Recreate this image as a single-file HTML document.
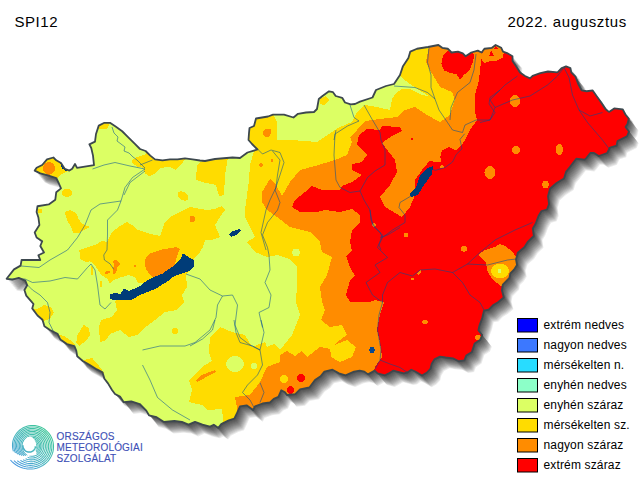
<!DOCTYPE html>
<html><head><meta charset="utf-8"><title>SPI12</title>
<style>
html,body{margin:0;padding:0;background:#fff;}
body{width:640px;height:480px;overflow:hidden;position:relative;font-family:"Liberation Sans",sans-serif;}
svg{position:absolute;left:0;top:0;}
text{font-family:"Liberation Sans",sans-serif;}
</style></head><body>
<svg width="640" height="480" viewBox="0 0 640 480">
<defs>
<polygon id="cp" points="6.6,278.75 14,269.4 20.6,265.6 21.6,260 40.3,260 38.4,255.3 44,252.5 40.3,246 42.2,241.25 36.6,237.5 34.7,232.5 39.4,225 38.4,217.5 36.6,212 37.5,206.25 48.75,204.4 55.3,199.7 56.25,192.2 61,188.4 59,183.75 56.25,178 47.8,175.3 40.3,173.4 34.7,170.6 36.6,167.8 42.2,165 47,159.4 53.4,157.5 56.25,160.3 61,163 64.7,168.75 69.4,170.6 72.2,168.75 75,164 77,167.8 94,165.2 93,155.6 91.25,148 89.4,144.4 95,141.6 96,134 98.75,125.6 104.4,122.8 110,122.8 115.6,126.6 122.2,131.25 127.8,136.9 134.4,143.4 140,149 145.6,151 150.3,155.6 155,159.4 162.5,160.3 170,159.4 177.5,159.4 185,158.4 192.5,159.4 200,160.5 205,161 215,159 232.5,157.5 240,158 247.5,152.5 257.5,149.5 252,144 248.5,140 249,133 249.5,128 254,126 256,118.5 262,117.5 268,116.5 273,114.7 284,114.7 293.5,117.5 298,113.8 306,112.5 314,112 317,109 318.8,99 322.5,96 329,91.3 333,92.2 335.7,96 342.2,97.8 345,102.5 350.7,104.4 355,104 360,101.6 372.5,97.5 376,90 386,86 394,84 400,75 402.8,66.6 408.4,58 410.3,51.6 417,48.75 428,47 438.4,45 442.2,47.8 447.8,48.75 451.6,52.5 458,51.6 462.8,53.4 465.6,56.25 471.25,52.5 477.8,50.6 481.6,52.5 484.4,48.75 492,47.8 495.6,45 501.25,47.8 503,51.6 507.8,53.4 512.5,56.25 512.5,61 516.25,66.6 520,72.5 525,76 530,78.4 532.6,75.8 540.3,73.2 548,71.5 557.5,72.3 561.8,68 566,66.3 570.4,68 571.25,72.3 575.5,76.6 578,83.5 581.6,90.4 586.7,91.25 592.7,90.4 596.2,95.5 600.5,101.6 605.6,109.3 609,111.9 614.2,108.4 622.8,109.3 625.4,114.5 628.8,118.75 627.5,124 625.5,127 629,131.5 627,136.25 617.5,141 616.6,145.6 610,147.5 607.2,153 598.75,156 594,153 590.3,153 586.6,157.8 584.7,159.7 576.25,158.75 569.7,167.2 566,171.9 564,178.4 556.6,183 550,188.75 548,196.25 549,204 547,209.5 541.5,211 538.5,216 535.6,223.75 532.8,228.4 533.75,236 528,241.6 524.4,247.2 517.8,252.8 516,259.4 517,265 514,269.7 510.3,273.4 509.4,278 502.8,284.7 501.9,290.3 503.75,297.5 498,302.2 493.4,305 488.75,309.7 484,310.6 482.2,318 479.4,325.6 478.4,330.3 482.2,335 480.3,339.7 474.7,343.4 471.9,351.9 466.25,355.6 464.4,360.3 458.75,361.25 453,358.4 445.6,357.5 440,356.6 434.4,359.4 431.6,364 430.6,368.5 427,372.5 422,375.5 415.3,371.5 411.25,369.7 407.5,372.5 403.75,373.4 393.4,370.6 388.75,373.4 385,375.3 377.5,373.4 374.7,370.6 368,374.4 364.4,371.6 359.7,370.6 354,371.6 345.6,375.3 339,373.4 332.5,369.7 324.4,371.6 320.6,376.3 315,380 309.4,387.5 300,389.4 295.3,394.1 286.9,395 285,392.2 281.25,390.3 278.4,396.9 273.75,398.8 270,402.5 262.5,403.5 255,406.3 253.1,410 246.6,405.3 240,406.3 237,413 234.4,418.5 228.75,420.4 221.25,424.1 218.4,427.9 213.8,424.7 210,426.6 202.5,424.7 195,421.9 188.5,424.7 181.9,421.9 174.4,421 164,421.9 156.6,417.2 149,415.3 146.3,410.6 139.7,404 131.25,401.3 123.75,402.2 120,396.6 115,394 112,390 108,383.4 104.4,378.75 102.5,372.2 96.9,369.4 89.4,364.7 82.8,361 77.2,356.25 76.25,350.6 74.4,346 66.9,344 60.3,339.4 57.5,333.75 50,330 44.4,326.25 42.5,319.7 37.5,315.5 32.2,308.4 33.5,304 31.9,302.2 26.25,295.6 24.4,290 27.2,285.3 25.3,280.6 18.75,277.8 12.2,279.7"/>
<clipPath id="hu"><use href="#cp"/></clipPath>
<linearGradient id="lg" gradientUnits="userSpaceOnUse" x1="50" y1="428" x2="14" y2="466"><stop offset="0" stop-color="#2cc48a"/><stop offset="0.55" stop-color="#38b0b8"/><stop offset="1" stop-color="#3a8ee0"/></linearGradient>
<filter id="sh" x="-5%" y="-5%" width="115%" height="115%"><feGaussianBlur stdDeviation="0.5"/></filter>
</defs>
<rect width="640" height="480" fill="#fff"/>
<g filter="url(#sh)"><use href="#cp" transform="translate(0.66,0.8)" fill="#000" fill-opacity="0.082"/><use href="#cp" transform="translate(1.35,1.64)" fill="#000" fill-opacity="0.082"/><use href="#cp" transform="translate(2.05,2.48)" fill="#000" fill-opacity="0.082"/><use href="#cp" transform="translate(2.74,3.32)" fill="#000" fill-opacity="0.082"/><use href="#cp" transform="translate(3.43,4.16)" fill="#000" fill-opacity="0.082"/><use href="#cp" transform="translate(4.12,5.0)" fill="#000" fill-opacity="0.082"/><use href="#cp" transform="translate(4.82,5.84)" fill="#000" fill-opacity="0.082"/><use href="#cp" transform="translate(5.51,6.68)" fill="#000" fill-opacity="0.082"/><use href="#cp" transform="translate(6.2,7.52)" fill="#000" fill-opacity="0.082"/><use href="#cp" transform="translate(6.9,8.36)" fill="#000" fill-opacity="0.082"/><use href="#cp" transform="translate(7.59,9.2)" fill="#000" fill-opacity="0.082"/><use href="#cp" transform="translate(8.28,10.04)" fill="#000" fill-opacity="0.082"/><use href="#cp" transform="translate(8.98,10.88)" fill="#000" fill-opacity="0.082"/><use href="#cp" transform="translate(9.67,11.72)" fill="#000" fill-opacity="0.082"/></g>
<g clip-path="url(#hu)" shape-rendering="crispEdges">
<polygon points="6.6,278.75 14,269.4 20.6,265.6 21.6,260 40.3,260 38.4,255.3 44,252.5 40.3,246 42.2,241.25 36.6,237.5 34.7,232.5 39.4,225 38.4,217.5 36.6,212 37.5,206.25 48.75,204.4 55.3,199.7 56.25,192.2 61,188.4 59,183.75 56.25,178 47.8,175.3 40.3,173.4 34.7,170.6 36.6,167.8 42.2,165 47,159.4 53.4,157.5 56.25,160.3 61,163 64.7,168.75 69.4,170.6 72.2,168.75 75,164 77,167.8 94,165.2 93,155.6 91.25,148 89.4,144.4 95,141.6 96,134 98.75,125.6 104.4,122.8 110,122.8 115.6,126.6 122.2,131.25 127.8,136.9 134.4,143.4 140,149 145.6,151 150.3,155.6 155,159.4 162.5,160.3 170,159.4 177.5,159.4 185,158.4 192.5,159.4 200,160.5 205,161 215,159 232.5,157.5 240,158 247.5,152.5 257.5,149.5 252,144 248.5,140 249,133 249.5,128 254,126 256,118.5 262,117.5 268,116.5 273,114.7 284,114.7 293.5,117.5 298,113.8 306,112.5 314,112 317,109 318.8,99 322.5,96 329,91.3 333,92.2 335.7,96 342.2,97.8 345,102.5 350.7,104.4 355,104 360,101.6 372.5,97.5 376,90 386,86 394,84 400,75 402.8,66.6 408.4,58 410.3,51.6 417,48.75 428,47 438.4,45 442.2,47.8 447.8,48.75 451.6,52.5 458,51.6 462.8,53.4 465.6,56.25 471.25,52.5 477.8,50.6 481.6,52.5 484.4,48.75 492,47.8 495.6,45 501.25,47.8 503,51.6 507.8,53.4 512.5,56.25 512.5,61 516.25,66.6 520,72.5 525,76 530,78.4 532.6,75.8 540.3,73.2 548,71.5 557.5,72.3 561.8,68 566,66.3 570.4,68 571.25,72.3 575.5,76.6 578,83.5 581.6,90.4 586.7,91.25 592.7,90.4 596.2,95.5 600.5,101.6 605.6,109.3 609,111.9 614.2,108.4 622.8,109.3 625.4,114.5 628.8,118.75 627.5,124 625.5,127 629,131.5 627,136.25 617.5,141 616.6,145.6 610,147.5 607.2,153 598.75,156 594,153 590.3,153 586.6,157.8 584.7,159.7 576.25,158.75 569.7,167.2 566,171.9 564,178.4 556.6,183 550,188.75 548,196.25 549,204 547,209.5 541.5,211 538.5,216 535.6,223.75 532.8,228.4 533.75,236 528,241.6 524.4,247.2 517.8,252.8 516,259.4 517,265 514,269.7 510.3,273.4 509.4,278 502.8,284.7 501.9,290.3 503.75,297.5 498,302.2 493.4,305 488.75,309.7 484,310.6 482.2,318 479.4,325.6 478.4,330.3 482.2,335 480.3,339.7 474.7,343.4 471.9,351.9 466.25,355.6 464.4,360.3 458.75,361.25 453,358.4 445.6,357.5 440,356.6 434.4,359.4 431.6,364 430.6,368.5 427,372.5 422,375.5 415.3,371.5 411.25,369.7 407.5,372.5 403.75,373.4 393.4,370.6 388.75,373.4 385,375.3 377.5,373.4 374.7,370.6 368,374.4 364.4,371.6 359.7,370.6 354,371.6 345.6,375.3 339,373.4 332.5,369.7 324.4,371.6 320.6,376.3 315,380 309.4,387.5 300,389.4 295.3,394.1 286.9,395 285,392.2 281.25,390.3 278.4,396.9 273.75,398.8 270,402.5 262.5,403.5 255,406.3 253.1,410 246.6,405.3 240,406.3 237,413 234.4,418.5 228.75,420.4 221.25,424.1 218.4,427.9 213.8,424.7 210,426.6 202.5,424.7 195,421.9 188.5,424.7 181.9,421.9 174.4,421 164,421.9 156.6,417.2 149,415.3 146.3,410.6 139.7,404 131.25,401.3 123.75,402.2 120,396.6 115,394 112,390 108,383.4 104.4,378.75 102.5,372.2 96.9,369.4 89.4,364.7 82.8,361 77.2,356.25 76.25,350.6 74.4,346 66.9,344 60.3,339.4 57.5,333.75 50,330 44.4,326.25 42.5,319.7 37.5,315.5 32.2,308.4 33.5,304 31.9,302.2 26.25,295.6 24.4,290 27.2,285.3 25.3,280.6 18.75,277.8 12.2,279.7" fill="#dcff64" />
<polygon points="412,30 402,68 400,76 406,81 413,86 422,92 430,96.5 422,95 411,89.5 403,88.5 396,93 392,99 390,110 377,107 365,105 357,112 352,122 340,127 335,130 317,142 292,140 277,140 277,122 272,112 240,112 240,150 254,151 250,165 249,180 247,195 245,210 245,217 255,237 247,242 255,252 267,257 277,255 290,259 297,267 297,285 296,302 300,315 292,335 280,350 274,344 267,347 265,342 252,347 245,335 232,332 220,327 210,337 209,352 212,361 202,367 189,380 192,390 189,402 202,405 207,410 222,409 222,440 660,440 660,30" fill="#ffdc00" />
<polygon points="112,232 120,226 127,222 132,225 138,230 150,234 160,236 163,228 165,222 170,217 180,212 190,207 207,210 215,209 222,206 225,210 220,217 215,225 218,232 220,237 212,240 205,240 203,247 200,252 195,257 194,260 192,267 186,275 187,287 182,295 184,302 177,310 165,312 155,320 147,326 137,335 129,337 120,330 110,334 106,340 100,342 99,327 101,320 112,317 117,310 115,301 125,297 139,290 145,283 138,282.5 135,277.5 128.75,275 120,277.5 113.75,280 110,283.75 107.5,278.75 101.25,275 98.75,271.25 95,265 90,261.25 86.25,262.5 80,258.75 79.4,250 95,245 102,241 107,242" fill="#ffdc00" />
<polygon points="131.6,160.3 136.25,157.5 144.7,154.7 148,150 160,152 186,154 185,159.4 182.2,163 175.6,169.7 170,167 160.6,167.8 155,173.4 149.4,176.25 144.7,173.4 143.75,167.8 137.2,166.9 132.5,163" fill="#ffdc00" />
<polygon points="197,165 205,159 228,157 225,175 224,195 219,196 216,185 202,182 196,180" fill="#ffdc00" />
<polygon points="64.7,212 70.3,210 76,212.8 78.75,219.4 82.5,224 90,227 82.5,230.6 78.75,233.4 73,232.5 71.25,227 67.5,221.25 65.6,215.6" fill="#ffdc00" />
<polygon points="77.2,335.6 83.75,324.4 88.4,328 90.3,334.7 85.6,341.25 79,346 76.25,343" fill="#ffdc00" />
<polygon points="84,360 92.2,358 98.75,365.6 104,373 96,372 88,366" fill="#ffdc00" />
<polygon points="90.5,266 93,267 93.5,275 91.5,275" fill="#ffdc00" />
<polygon points="100,281 102,281 102.5,287 100.5,287" fill="#ffdc00" />
<polygon points="30,309 37,309.4 44.4,304.7 51,307.5 53.75,313 50,318.75 44.4,320.6 38,322" fill="#ffdc00" />
<polygon points="30,160 50,150 62,160 69,169 66,172 60,175 56,179 30,182" fill="#ffdc00" />
<polygon points="72.0,192.8 71.5,194.6 70.1,196.0 68.1,196.8 65.9,196.8 63.9,196.0 62.5,194.6 62.0,192.8 62.5,190.9 63.9,189.5 65.9,188.7 68.1,188.7 70.1,189.5 71.5,190.9" fill="#ffdc00" />
<polygon points="42.5,211.0 42.3,212.1 41.6,213.0 40.6,213.4 39.4,213.4 38.4,213.0 37.7,212.1 37.5,211.0 37.7,209.9 38.4,209.0 39.4,208.6 40.6,208.6 41.6,209.0 42.3,209.9" fill="#ffdc00" />
<polygon points="59,335 64,336 70,340 75,345 66,346" fill="#ffdc00" />
<polygon points="97,128 100,120 112,120 109,124.7 108,128.4 102.5,129.4" fill="#ffdc00" />
<polygon points="187.9,199.4 186.4,200.5 184.3,200.7 181.9,200.0 179.7,198.4 178.1,196.4 177.6,194.3 178.1,192.6 179.6,191.5 181.7,191.3 184.1,192.0 186.3,193.6 187.9,195.6 188.4,197.7" fill="#ffdc00" />
<polygon points="178.5,331.0 178.2,332.5 177.2,333.7 175.8,334.4 174.2,334.4 172.8,333.7 171.8,332.5 171.5,331.0 171.8,329.5 172.8,328.3 174.2,327.6 175.8,327.6 177.2,328.3 178.2,329.5" fill="#ffdc00" />
<polygon points="320,99 326,96 329,100 324,105 320,104" fill="#ffdc00" />
<polygon points="300.0,252.5 299.6,254.2 298.5,255.6 296.9,256.4 295.1,256.4 293.5,255.6 292.4,254.2 292.0,252.5 292.4,250.8 293.5,249.4 295.1,248.6 296.9,248.6 298.5,249.4 299.6,250.8" fill="#dcff64" />
<polygon points="244.0,364.0 243.1,367.5 240.6,370.3 237.0,371.8 233.0,371.8 229.4,370.3 226.9,367.5 226.0,364.0 226.9,360.5 229.4,357.7 233.0,356.2 237.0,356.2 240.6,357.7 243.1,360.5" fill="#dcff64" />
<polygon points="257.5,366.0 257.2,367.5 256.2,368.7 254.8,369.4 253.2,369.4 251.8,368.7 250.8,367.5 250.5,366.0 250.8,364.5 251.8,363.3 253.2,362.6 254.8,362.6 256.2,363.3 257.2,364.5" fill="#dcff64" />
<polygon points="223.5,418.0 222.8,421.5 220.7,424.3 217.7,425.8 214.3,425.8 211.3,424.3 209.2,421.5 208.5,418.0 209.2,414.5 211.3,411.7 214.3,410.2 217.7,410.2 220.7,411.7 222.8,414.5" fill="#dcff64" />
<polygon points="429,30 429,47 426,62 430,70 440,87 452,92 455,100 450,115 440,122 427,115 415,107 405,110 397,117 380,119 365,121 357,130 350,137 352,142 347,155 335,160 315,166 300,170 290,182 282,196 276,185 270,179 262,192 262,202 267,210 277,217 290,227 310,232 320,242 322,252 332,257 327,275 320,287 322,302 325,310 321,320 330,327 342,325 347,335 337,342 330,349 320,347 307,357 302,351 295,356 287,351 280,355 280,362 267,367 260,382 250,395 235,397 237,407 237,440 660,440 660,30" fill="#ff8c00" />
<polygon points="145.3,258.75 150,253.3 162.5,249.4 176.6,247 179.7,249.4 176.6,257.2 175,265 168.75,269 162.5,273.6 153,277.5 150,275 146,269 144.5,263.4" fill="#ff8c00" />
<polygon points="55.0,168.3 54.4,171.1 52.7,173.4 50.3,174.6 47.7,174.6 45.3,173.4 43.6,171.1 43.0,168.3 43.6,165.5 45.3,163.2 47.7,162.0 50.3,162.0 52.7,163.2 54.4,165.5" fill="#ff8c00" />
<polygon points="195.1,219.0 194.8,220.5 194.0,221.7 192.9,222.4 191.7,222.4 190.6,221.7 189.8,220.5 189.5,219.0 189.8,217.5 190.6,216.3 191.7,215.6 192.9,215.6 194.0,216.3 194.8,217.5" fill="#ff8c00" />
<polygon points="330,347 347,340 356,347 352,357 340,362 331,357" fill="#ffdc00" />
<polygon points="288.0,379.0 287.6,380.7 286.5,382.1 284.9,382.9 283.1,382.9 281.5,382.1 280.4,380.7 280.0,379.0 280.4,377.3 281.5,375.9 283.1,375.1 284.9,375.1 286.5,375.9 287.6,377.3" fill="#ffdc00" />
<polygon points="196,380 200,376 207,373 215,370 216,372 208,376 201,380 197,382" fill="#ff8c00" />
<polygon points="113,261 116,259.5 121,264 117.5,267 116,273 113.5,274 113,269 114,265" fill="#ff8c00" />
<polygon points="104.5,272 109,270.5 110,272.5 106,274.5" fill="#ff8c00" />
<polygon points="136.2,265.6 136.1,266.1 135.7,266.5 135.3,266.8 134.7,266.8 134.3,266.5 133.9,266.1 133.8,265.6 133.9,265.1 134.3,264.7 134.7,264.4 135.3,264.4 135.7,264.7 136.1,265.1" fill="#ff8c00" />
<polygon points="263,131 266,129 271,129.5 271,133 269,136.5 265,137 262.5,134" fill="#ff8c00" />
<polygon points="263.0,165.0 262.8,165.9 262.2,166.6 261.4,166.9 260.6,166.9 259.8,166.6 259.2,165.9 259.0,165.0 259.2,164.1 259.8,163.4 260.6,163.1 261.4,163.1 262.2,163.4 262.8,164.1" fill="#ff8c00" />
<polygon points="273.5,160.5 273.4,161.2 272.9,161.7 272.3,162.0 271.7,162.0 271.1,161.7 270.6,161.2 270.5,160.5 270.6,159.8 271.1,159.3 271.7,159.0 272.3,159.0 272.9,159.3 273.4,159.8" fill="#ff8c00" />
<polygon points="482,30 482,52 481,62 479,80 475,95 475,112 477,120 470,130 465,140 462,145 456,150.6 448.75,147 442,150.6 440.3,156.25 441.25,162 435.6,162.5 430,160.5 422,170 415,180 415,195 410,207 402,217 385,207 380,197 390,185 397,172 395,160 382,143 386,140 392,136 402,131 400,127 382,126 380,130 367,129 359,135 357,145 367,155 362,162 352,164 352,170 362,175 352,182 342,186 340,190 322,190 312,186 305,192 295,200 292,207 300,212 317,212 325,210 340,212 352,209 360,215 360,222 352,230 350,242 352,251 346,256 350,267 355,276 350,280 346,295 350,302 370,302 375,300 384,302 380,315 377,330 380,342 382,357 375,367 374,371 374,440 660,440 660,30" fill="#ff0000" />
<polygon points="443,56 447,51 451.6,52 458,51 462.8,53 465.6,56 471,52.5 474.5,54 473,62 469.4,70.3 463.75,75 460,79.7 456.25,74 450.6,73 444,70.3 441.25,63.75" fill="#ff0000" />
<polygon points="305.0,378.0 304.6,379.7 303.5,381.1 301.9,381.9 300.1,381.9 298.5,381.1 297.4,379.7 297.0,378.0 297.4,376.3 298.5,374.9 300.1,374.1 301.9,374.1 303.5,374.9 304.6,376.3" fill="#ff0000" />
<polygon points="294.5,390.0 294.1,391.7 293.0,393.1 291.4,393.9 289.6,393.9 288.0,393.1 286.9,391.7 286.5,390.0 286.9,388.3 288.0,386.9 289.6,386.1 291.4,386.1 293.0,386.9 294.1,388.3" fill="#ff0000" />
<polygon points="413.5,139.0 413.4,139.7 412.9,140.2 412.3,140.5 411.7,140.5 411.1,140.2 410.6,139.7 410.5,139.0 410.6,138.3 411.1,137.8 411.7,137.5 412.3,137.5 412.9,137.8 413.4,138.3" fill="#ff0000" />
<polygon points="479,254 485,250 495,247 500,244 505,246 512,251 516,257 517,266 511,274 507,282 501,286 492,279 487,270 486,262 480,257" fill="#ff8c00" />
<polygon points="509.0,271.0 508.1,274.3 505.6,276.9 502.0,278.3 498.0,278.3 494.4,276.9 491.9,274.3 491.0,271.0 491.9,267.7 494.4,265.1 498.0,263.7 502.0,263.7 505.6,265.1 508.1,267.7" fill="#ffdc00" />
<polygon points="501.5,271.0 501.3,271.9 500.7,272.6 499.9,272.9 499.1,272.9 498.3,272.6 497.7,271.9 497.5,271.0 497.7,270.1 498.3,269.4 499.1,269.1 499.9,269.1 500.7,269.4 501.3,270.1" fill="#dcff64" />
<polygon points="520.0,150.0 519.6,151.7 518.5,153.1 516.9,153.9 515.1,153.9 513.5,153.1 512.4,151.7 512.0,150.0 512.4,148.3 513.5,146.9 515.1,146.1 516.9,146.1 518.5,146.9 519.6,148.3" fill="#ff8c00" />
<polygon points="563.0,149.5 562.7,152.1 561.7,154.2 560.3,155.3 558.7,155.3 557.3,154.2 556.3,152.1 556.0,149.5 556.3,146.9 557.3,144.8 558.7,143.7 560.3,143.7 561.7,144.8 562.7,146.9" fill="#ff8c00" />
<polygon points="495.5,172.5 495.0,175.3 493.4,177.6 491.2,178.8 488.8,178.8 486.6,177.6 485.0,175.3 484.5,172.5 485.0,169.7 486.6,167.4 488.8,166.2 491.2,166.2 493.4,167.4 495.0,169.7" fill="#ff8c00" />
<polygon points="549.0,184.5 548.7,186.2 547.7,187.6 546.3,188.4 544.7,188.4 543.3,187.6 542.3,186.2 542.0,184.5 542.3,182.8 543.3,181.4 544.7,180.6 546.3,180.6 547.7,181.4 548.7,182.8" fill="#ff8c00" />
<polygon points="520.0,101.0 519.5,103.8 518.1,106.1 516.1,107.3 513.9,107.3 511.9,106.1 510.5,103.8 510.0,101.0 510.5,98.2 511.9,95.9 513.9,94.7 516.1,94.7 518.1,95.9 519.5,98.2" fill="#ff8c00" />
<polygon points="408.5,235.0 408.3,236.1 407.6,237.0 406.6,237.4 405.4,237.4 404.4,237.0 403.7,236.1 403.5,235.0 403.7,233.9 404.4,233.0 405.4,232.6 406.6,232.6 407.6,233.0 408.3,233.9" fill="#ff8c00" />
<polygon points="467.0,249.0 466.7,250.3 465.9,251.3 464.7,251.9 463.3,251.9 462.1,251.3 461.3,250.3 461.0,249.0 461.3,247.7 462.1,246.7 463.3,246.1 464.7,246.1 465.9,246.7 466.7,247.7" fill="#ff8c00" />
<polygon points="428.0,322.0 427.7,323.1 426.9,324.0 425.7,324.4 424.3,324.4 423.1,324.0 422.3,323.1 422.0,322.0 422.3,320.9 423.1,320.0 424.3,319.6 425.7,319.6 426.9,320.0 427.7,320.9" fill="#ff8c00" />
<polygon points="481.0,337.5 480.7,338.6 479.9,339.5 478.7,339.9 477.3,339.9 476.1,339.5 475.3,338.6 475.0,337.5 475.3,336.4 476.1,335.5 477.3,335.1 478.7,335.1 479.9,335.5 480.7,336.4" fill="#ff8c00" />
<polygon points="376.0,225.0 375.8,225.9 375.2,226.6 374.4,226.9 373.6,226.9 372.8,226.6 372.2,225.9 372.0,225.0 372.2,224.1 372.8,223.4 373.6,223.1 374.4,223.1 375.2,223.4 375.8,224.1" fill="#ff8c00" />
<polygon points="417,274 420,270 421.5,271 419,275" fill="#ff8c00" />
<polygon points="413.7,279.0 413.6,279.5 413.2,279.9 412.8,280.2 412.2,280.2 411.8,279.9 411.4,279.5 411.3,279.0 411.4,278.5 411.8,278.1 412.2,277.8 412.8,277.8 413.2,278.1 413.6,278.5" fill="#ff8c00" />
<polygon points="443.8,166.6 443.6,167.4 443.1,168.0 442.4,168.4 441.6,168.4 440.9,168.0 440.4,167.4 440.2,166.6 440.4,165.8 440.9,165.2 441.6,164.8 442.4,164.8 443.1,165.2 443.6,165.8" fill="#ff8c00" />
<polygon points="481,58 484,48 496,44 504,51.6 502.5,58 497,60.5 490,61 484,63" fill="#ff8c00" />
<polygon points="489,56 491,50.5 494,56" fill="#ff0000" />
<polygon points="494,48.5 495.8,45.5 498,49" fill="#ff0000" />
<polygon points="182.8,253.3 193.75,260.3 194.5,265.8 189,271.25 181.25,273.6 173.4,276.7 168.75,280.6 162.5,284.5 156.25,288.4 148.4,291.6 139,295.5 131.25,300 115.6,300.5 110,299 110.5,294 115.6,293 120.3,294 124.2,288.4 129,290.8 139,286.9 146.9,280.6 153,277.5 162.5,273.6 168.75,269 175,265 179.7,260.3 182,255.6" fill="#003c78" />
<polygon points="427,168 433,166 432,174 424,185 418,195 411,197 410,194 416,187 420,176" fill="#003c78" />
<polygon points="229,234 233,231 240,229 241,231 236,235 231,237" fill="#003c78" />
<polygon points="370,347.5 373.5,347 375,350 373.5,353 370.5,353.5 369,350.5" fill="#0a4a90" />
<polygon points="59,160 61.5,162 64,167 68,170 66,171 62,168.5" fill="#003c78" />
</g>
<g fill="none" stroke="#004c96" stroke-width="0.9" stroke-opacity="0.6" stroke-linejoin="round" clip-path="url(#hu)"><polyline points="112,127 114,133 118,137 117,141 121,144 125,147 124,151 129,153 133,157 137,160 141,164 145,168"/><polyline points="92.5,169 104,165 115,162.5 130,166 145,169"/><polyline points="145,169 132.5,177.5 125,187.5 121,201 117.5,210 107.5,220"/><polyline points="145,171 130,182.5 124,195"/><polyline points="121,201 100,204 91,210 85,225 77.5,237.5 67.5,250 50,260 39,267.5 21,266"/><polyline points="6,279 25,279 32.5,282.5 50,281 65,277.5 77.5,279 87.5,267.5 91,264 95,270 97.5,285 100,305 105,309 111,302.5"/><polyline points="107.5,220 107.5,235 107,250 103.75,255 104.4,260 110,263.75 113.75,269.4"/><polyline points="25,282.5 32.5,290 40,295 47.5,302.5 50,312.5 49,322.5 54,332.5"/><polyline points="186,274 200,279 210,290 222.5,296 217.5,305 216,317.5 210,330 195,342.5 185,346 160,346 142.5,350"/><polyline points="222.5,296 232.5,295 237.5,305 235,325 240,337.5 250,345 260,350"/><polyline points="215,320 212.5,330 202.5,339 190,346"/><polyline points="142.5,365 150,380 157.5,397.5 172.5,410 190,420"/><polyline points="234,320 236,332.5 240,342.5 252.5,346 260,350 262.5,365 257.5,375 247.5,385 242.5,392.5 250,400 254,407.5"/><polyline points="261,320 264,332.5 260,350"/><polyline points="260,382.5 264,392.5 260,402.5"/><polyline points="256,147.5 262.5,154 271,150 280,152.5 284,162.5 280,175 275,190 280,202.5 277.5,210 267.5,222.5 262.5,235 267.5,247.5 269,255 270,270 265,282.5 271,295 269,307.5 259,312.5 262.5,327.5"/><polyline points="272.5,151 280,160 277.5,175 276,187.5 270,200 266,210 261,232.5 266,250"/><polyline points="140,165 152.5,160"/><polyline points="350,105 354,117.5 359,121 347.5,126 335,134 334,155 336,180 340,187.5 350,192.5 360,191"/><polyline points="336,130 334,140"/><polyline points="360,191 367.5,177.5 375,171 385,165 385,150 381,140 380,132.5 372.5,120 364,105"/><polyline points="360,191 364,200 370,210 371,220 375,227.5 380,232.5 382.5,237.5 379,245 381,250"/><polyline points="382.5,237.5 392.5,230 405,222.5 405,215 399,207.5 400,202.5 411,196"/><polyline points="394,86 415,87.5 427.5,92.5 435,99 439,110 447.5,122.5 452.5,130 462.5,132.5 465,125 476,120"/><polyline points="429,47.5 427.5,62.5 431,75 431,87.5 435,99"/><polyline points="476,54 474,70 470,82.5 457.5,92.5 451,107.5 450,120"/><polyline points="464.7,133.75 460,139.4 462,148.75 456.25,154.4 452.5,162 445,167.5 435.6,170.3 431,169"/><polyline points="500,90 490,97.5 489,104 495,112.5 490,120 476,120"/><polyline points="480,122.5 490,120 495,107.5 490,100 505,85 517.5,76"/><polyline points="495,107.5 512.5,100 530,96 547.5,85 557.5,76 564,67.5"/><polyline points="564,67.5 569,77.5 572.5,95 579,110 587.5,122.5 602.5,140 610,150"/><polyline points="579,110 590,116 602.5,112.5"/><polyline points="370,210 372.5,225 382.5,235 377.5,247.5 387.5,257.5 375,265 380,272.5 366,282.5 372.5,295 382.5,302.5 379,315 377.5,330 381,350 380,360 375,369"/><polyline points="400,227.5 387.5,235 380,237.5"/><polyline points="400,272.5 387.5,282.5 382.5,295 382.5,302.5"/><polyline points="400,272.5 412.5,276 420,270 435,269 452.5,272.5 467.5,264 480,252.5 495,240 515,230 532.5,222.5"/><polyline points="467.5,264 487.5,265 507.5,260 516,259"/><polyline points="452.5,272.5 462.5,282.5 470,295 480,302.5 484,310"/><polyline points="380,360 390,364 400,367.5 407.5,372.5"/></g>
<polygon points="6.6,278.75 14,269.4 20.6,265.6 21.6,260 40.3,260 38.4,255.3 44,252.5 40.3,246 42.2,241.25 36.6,237.5 34.7,232.5 39.4,225 38.4,217.5 36.6,212 37.5,206.25 48.75,204.4 55.3,199.7 56.25,192.2 61,188.4 59,183.75 56.25,178 47.8,175.3 40.3,173.4 34.7,170.6 36.6,167.8 42.2,165 47,159.4 53.4,157.5 56.25,160.3 61,163 64.7,168.75 69.4,170.6 72.2,168.75 75,164 77,167.8 94,165.2 93,155.6 91.25,148 89.4,144.4 95,141.6 96,134 98.75,125.6 104.4,122.8 110,122.8 115.6,126.6 122.2,131.25 127.8,136.9 134.4,143.4 140,149 145.6,151 150.3,155.6 155,159.4 162.5,160.3 170,159.4 177.5,159.4 185,158.4 192.5,159.4 200,160.5 205,161 215,159 232.5,157.5 240,158 247.5,152.5 257.5,149.5 252,144 248.5,140 249,133 249.5,128 254,126 256,118.5 262,117.5 268,116.5 273,114.7 284,114.7 293.5,117.5 298,113.8 306,112.5 314,112 317,109 318.8,99 322.5,96 329,91.3 333,92.2 335.7,96 342.2,97.8 345,102.5 350.7,104.4 355,104 360,101.6 372.5,97.5 376,90 386,86 394,84 400,75 402.8,66.6 408.4,58 410.3,51.6 417,48.75 428,47 438.4,45 442.2,47.8 447.8,48.75 451.6,52.5 458,51.6 462.8,53.4 465.6,56.25 471.25,52.5 477.8,50.6 481.6,52.5 484.4,48.75 492,47.8 495.6,45 501.25,47.8 503,51.6 507.8,53.4 512.5,56.25 512.5,61 516.25,66.6 520,72.5 525,76 530,78.4 532.6,75.8 540.3,73.2 548,71.5 557.5,72.3 561.8,68 566,66.3 570.4,68 571.25,72.3 575.5,76.6 578,83.5 581.6,90.4 586.7,91.25 592.7,90.4 596.2,95.5 600.5,101.6 605.6,109.3 609,111.9 614.2,108.4 622.8,109.3 625.4,114.5 628.8,118.75 627.5,124 625.5,127 629,131.5 627,136.25 617.5,141 616.6,145.6 610,147.5 607.2,153 598.75,156 594,153 590.3,153 586.6,157.8 584.7,159.7 576.25,158.75 569.7,167.2 566,171.9 564,178.4 556.6,183 550,188.75 548,196.25 549,204 547,209.5 541.5,211 538.5,216 535.6,223.75 532.8,228.4 533.75,236 528,241.6 524.4,247.2 517.8,252.8 516,259.4 517,265 514,269.7 510.3,273.4 509.4,278 502.8,284.7 501.9,290.3 503.75,297.5 498,302.2 493.4,305 488.75,309.7 484,310.6 482.2,318 479.4,325.6 478.4,330.3 482.2,335 480.3,339.7 474.7,343.4 471.9,351.9 466.25,355.6 464.4,360.3 458.75,361.25 453,358.4 445.6,357.5 440,356.6 434.4,359.4 431.6,364 430.6,368.5 427,372.5 422,375.5 415.3,371.5 411.25,369.7 407.5,372.5 403.75,373.4 393.4,370.6 388.75,373.4 385,375.3 377.5,373.4 374.7,370.6 368,374.4 364.4,371.6 359.7,370.6 354,371.6 345.6,375.3 339,373.4 332.5,369.7 324.4,371.6 320.6,376.3 315,380 309.4,387.5 300,389.4 295.3,394.1 286.9,395 285,392.2 281.25,390.3 278.4,396.9 273.75,398.8 270,402.5 262.5,403.5 255,406.3 253.1,410 246.6,405.3 240,406.3 237,413 234.4,418.5 228.75,420.4 221.25,424.1 218.4,427.9 213.8,424.7 210,426.6 202.5,424.7 195,421.9 188.5,424.7 181.9,421.9 174.4,421 164,421.9 156.6,417.2 149,415.3 146.3,410.6 139.7,404 131.25,401.3 123.75,402.2 120,396.6 115,394 112,390 108,383.4 104.4,378.75 102.5,372.2 96.9,369.4 89.4,364.7 82.8,361 77.2,356.25 76.25,350.6 74.4,346 66.9,344 60.3,339.4 57.5,333.75 50,330 44.4,326.25 42.5,319.7 37.5,315.5 32.2,308.4 33.5,304 31.9,302.2 26.25,295.6 24.4,290 27.2,285.3 25.3,280.6 18.75,277.8 12.2,279.7" fill="none" stroke="#3d484e" stroke-width="1.8" stroke-linejoin="round"/>
<text x="14.4" y="26.8" font-size="15" letter-spacing="0.6" fill="#000">SPI12</text><text x="507.4" y="26.8" font-size="15" letter-spacing="0.62" fill="#000">2022. augusztus</text><rect x="517.5" y="318.5" width="20" height="13.5" fill="#0000ff" stroke="#000" stroke-width="1"/><text x="543.5" y="329.0" font-size="12" letter-spacing="0.15" fill="#000">extrém nedves</text><rect x="517.5" y="338.5" width="20" height="13.5" fill="#3c78ff" stroke="#000" stroke-width="1"/><text x="543.5" y="349.0" font-size="12" letter-spacing="0.15" fill="#000">nagyon nedves</text><rect x="517.5" y="358.5" width="20" height="13.5" fill="#28dcff" stroke="#000" stroke-width="1"/><text x="543.5" y="369.0" font-size="12" letter-spacing="0.15" fill="#000">mérsékelten n.</text><rect x="517.5" y="378.5" width="20" height="13.5" fill="#8cffc8" stroke="#000" stroke-width="1"/><text x="543.5" y="389.0" font-size="12" letter-spacing="0.15" fill="#000">enyhén nedves</text><rect x="517.5" y="398.5" width="20" height="13.5" fill="#dcff64" stroke="#000" stroke-width="1"/><text x="543.5" y="409.0" font-size="12" letter-spacing="0.15" fill="#000">enyhén száraz</text><rect x="517.5" y="418.5" width="20" height="13.5" fill="#ffdc00" stroke="#000" stroke-width="1"/><text x="543.5" y="429.0" font-size="12" letter-spacing="0.15" fill="#000">mérsékelten sz.</text><rect x="517.5" y="438.5" width="20" height="13.5" fill="#ff8c00" stroke="#000" stroke-width="1"/><text x="543.5" y="449.0" font-size="12" letter-spacing="0.15" fill="#000">nagyon száraz</text><rect x="517.5" y="458.5" width="20" height="13.5" fill="#ff0000" stroke="#000" stroke-width="1"/><text x="543.5" y="469.0" font-size="12" letter-spacing="0.15" fill="#000">extrém száraz</text><g fill="none" stroke="url(#lg)" stroke-width="1.05" stroke-opacity="0.92"><polyline points="27.8,455.01 26.9,454.54 26.05,453.99 25.27,453.34 24.56,452.62 23.92,451.84 23.36,450.99 22.89,450.09 22.52,449.14 22.25,448.16 22.07,447.16 22.0,446.15 22.03,445.13 22.17,444.12 22.41,443.13 22.74,442.17 23.18,441.24 23.7,440.37 24.31,439.55 25.01,438.8 25.77,438.12 26.6,437.53 27.49,437.02 28.42,436.6 29.4,436.28 30.4,436.06 31.41,435.94 32.44,435.93 33.46,436.02 34.47,436.22 35.45,436.52 36.4,436.91 37.3,437.4 38.15,437.98 38.94,438.65 39.65,439.39 40.29,440.19 40.84,441.07 41.3,441.99 41.67,442.95 41.93,443.95 42.09,444.97 42.15,446.0 42.1,447.03 41.95,448.05 41.69,449.06 41.34,450.03 40.88,450.96 40.34,451.84 39.71,452.66 38.99,453.41 38.21,454.09 37.35,454.68 36.45,455.18 35.49,455.59 34.5,455.9 33.48,456.11 32.45,456.21 31.41,456.21 30.37,456.1 29.35,455.89"/><polyline points="26.05,455.52 25.11,454.88 24.23,454.14 23.44,453.32 22.73,452.43 22.11,451.46 21.6,450.44 21.19,449.36 20.89,448.25 20.71,447.12 20.64,445.97 20.69,444.81 20.85,443.67 21.13,442.55 21.53,441.46 22.03,440.42 22.64,439.43 23.34,438.5 24.14,437.65 25.01,436.89 25.97,436.22 26.98,435.64 28.05,435.18 29.17,434.82 30.31,434.58 31.48,434.45 32.65,434.44 33.82,434.56 34.98,434.79 36.1,435.13 37.19,435.59 38.22,436.16 39.2,436.83 40.1,437.6 40.92,438.45 41.65,439.39 42.28,440.39 42.81,441.46 43.23,442.58 43.53,443.73 43.71,444.91 43.78,446.1 43.72,447.29 43.54,448.48 43.24,449.64 42.83,450.76 42.3,451.84 41.67,452.87 40.93,453.82 40.1,454.69 39.19,455.48 38.2,456.17 37.14,456.77 36.03,457.25 34.88,457.63 33.69,457.88 32.48,458.02 31.25,458.04 30.03,457.94 28.82,457.71 27.64,457.37"/><polyline points="24.12,455.74 23.16,454.9 22.29,453.98 21.51,452.97 20.84,451.88 20.28,450.73 19.84,449.53 19.53,448.29 19.34,447.02 19.28,445.73 19.35,444.45 19.55,443.17 19.88,441.92 20.33,440.71 20.91,439.54 21.6,438.44 22.4,437.42 23.3,436.47 24.3,435.63 25.37,434.88 26.52,434.25 27.73,433.73 28.99,433.34 30.28,433.08 31.59,432.95 32.91,432.96 34.23,433.09 35.53,433.36 36.79,433.77 38.02,434.29 39.18,434.94 40.28,435.71 41.29,436.58 42.21,437.55 43.03,438.62 43.74,439.76 44.33,440.97 44.8,442.23 45.13,443.54 45.33,444.88 45.4,446.23 45.33,447.59 45.12,448.93 44.78,450.25 44.31,451.53 43.7,452.76 42.98,453.92 42.14,455.0 41.19,456.0 40.15,456.89 39.02,457.68 37.82,458.36 36.55,458.92 35.23,459.36 33.87,459.66 32.48,459.84 31.08,459.87 29.67,459.77 28.27,459.53 26.9,459.16 25.56,458.64"/><polyline points="22.04,455.62 21.1,454.59 20.26,453.46 19.54,452.25 18.95,450.98 18.48,449.64 18.15,448.27 17.96,446.86 17.92,445.44 18.02,444.02 18.26,442.62 18.64,441.24 19.16,439.9 19.81,438.62 20.6,437.42 21.5,436.29 22.51,435.26 23.62,434.33 24.82,433.52 26.11,432.83 27.45,432.28 28.85,431.86 30.29,431.58 31.75,431.45 33.22,431.47 34.68,431.64 36.12,431.95 37.53,432.41 38.89,433.01 40.18,433.75 41.39,434.61 42.51,435.59 43.53,436.69 44.43,437.88 45.22,439.16 45.87,440.51 46.38,441.93 46.74,443.4 46.96,444.89 47.03,446.41 46.94,447.92 46.7,449.43 46.31,450.9 45.77,452.33 45.09,453.7 44.27,455.0 43.32,456.21 42.26,457.32 41.08,458.32 39.82,459.21 38.47,459.97 37.04,460.6 35.56,461.1 34.03,461.45 32.46,461.65 30.88,461.71 29.29,461.6 27.7,461.35 26.14,460.94 24.61,460.38 23.13,459.66"/><polyline points="19.87,455.14 18.98,453.9 18.21,452.57 17.59,451.16 17.11,449.7 16.77,448.19 16.59,446.65 16.56,445.09 16.7,443.54 16.98,442.0 17.42,440.5 18.02,439.05 18.75,437.66 19.63,436.34 20.63,435.12 21.76,434.01 22.99,433.01 24.32,432.13 25.74,431.4 27.23,430.8 28.77,430.36 30.35,430.08 31.96,429.96 33.58,429.99 35.19,430.2 36.77,430.56 38.31,431.08 39.8,431.76 41.21,432.58 42.54,433.54 43.76,434.64 44.88,435.85 45.86,437.18 46.71,438.6 47.42,440.1 47.97,441.67 48.36,443.29 48.59,444.95 48.65,446.62 48.54,448.3 48.27,449.96 47.82,451.58 47.22,453.16 46.46,454.67 45.54,456.11 44.49,457.44 43.3,458.67 41.99,459.77 40.58,460.75 39.08,461.59 37.51,462.3 35.86,462.85 34.16,463.24 32.42,463.47 30.65,463.54 28.87,463.44 27.1,463.16 25.35,462.72 23.63,462.1 21.97,461.32 20.37,460.37"/><polyline points="17.66,454.28 16.86,452.82 16.21,451.28 15.72,449.68 15.38,448.04 15.21,446.37 15.22,444.68 15.39,443.0 15.72,441.33 16.23,439.71 16.9,438.14 17.72,436.64 18.7,435.23 19.81,433.91 21.05,432.72 22.41,431.65 23.87,430.72 25.43,429.94 27.06,429.31 28.75,428.86 30.48,428.57 32.23,428.46 33.99,428.52 35.74,428.76 37.46,429.18 39.14,429.77 40.75,430.53 42.29,431.44 43.73,432.51 45.05,433.72 46.25,435.06 47.32,436.52 48.23,438.08 48.99,439.73 49.58,441.45 49.99,443.23 50.23,445.04 50.28,446.88 50.14,448.71 49.83,450.53 49.33,452.31 48.65,454.03 47.8,455.68 46.79,457.25 45.62,458.7 44.31,460.04 42.87,461.24 41.32,462.31 39.67,463.23 37.94,464.0 36.12,464.6 34.25,465.04 32.34,465.3 30.39,465.37 28.43,465.26 26.47,464.97 24.53,464.49 22.63,463.81 20.78,462.96 19.0,461.92 17.3,460.7"/><polyline points="15.49,453.01 14.82,451.34 14.32,449.61 13.99,447.83 13.84,446.02 13.87,444.2 14.09,442.39 14.49,440.6 15.06,438.86 15.81,437.17 16.73,435.57 17.81,434.06 19.03,432.66 20.39,431.39 21.88,430.26 23.48,429.28 25.17,428.46 26.94,427.81 28.78,427.34 30.65,427.06 32.55,426.96 34.46,427.06 36.35,427.34 38.21,427.82 40.02,428.48 41.76,429.32 43.41,430.34 44.95,431.51 46.38,432.84 47.66,434.31 48.8,435.91 49.78,437.61 50.58,439.41 51.2,441.29 51.63,443.22 51.86,445.19 51.9,447.18 51.73,449.17 51.37,451.14 50.81,453.07 50.06,454.94 49.13,456.73 48.01,458.42 46.73,460.0 45.3,461.44 43.72,462.74 42.03,463.9 40.23,464.89 38.33,465.72 36.36,466.37 34.31,466.84 32.22,467.12 30.09,467.21 27.95,467.09 25.81,466.77 23.68,466.25 21.59,465.52 19.56,464.58 17.6,463.45 15.73,462.12 13.98,460.59"/><polyline points="13.41,451.33 12.91,449.46 12.59,447.55 12.47,445.61 12.54,443.66 12.81,441.72 13.27,439.81 13.93,437.95 14.76,436.15 15.78,434.45 16.96,432.85 18.3,431.37 19.79,430.03 21.41,428.84 23.14,427.81 24.97,426.96 26.89,426.29 28.87,425.82 30.89,425.54 32.94,425.47 34.99,425.6 37.02,425.94 39.01,426.48 40.95,427.22 42.81,428.15 44.57,429.26 46.22,430.55 47.74,432.0 49.1,433.6 50.31,435.34 51.34,437.19 52.18,439.14 52.83,441.17 53.27,443.26 53.5,445.39 53.52,447.54 53.32,449.68 52.91,451.8 52.28,453.88 51.46,455.89 50.43,457.81 49.21,459.63 47.81,461.32 46.25,462.87 44.54,464.26 42.7,465.5 40.74,466.57 38.69,467.46 36.55,468.16 34.33,468.66 32.07,468.96 29.76,469.04 27.43,468.92 25.11,468.57 22.8,468.0 20.52,467.21 18.31,466.2 16.17,464.96 14.13,463.52 12.21,461.86 10.43,460.01"/><polyline points="27.02,438.88 27.8,438.39 28.64,437.98 29.51,437.66 30.42,437.44 31.34,437.31 32.27,437.29 33.2,437.36 34.12,437.53 35.02,437.81 35.88,438.17 36.69,438.62 37.46,439.16 38.16,439.78 38.79,440.47 39.35,441.23 39.82,442.04 40.2,442.89 40.49,443.79 40.69,444.71 40.78,445.64 40.77,446.58 40.67,447.52 40.46,448.44 40.16,449.33 39.76,450.18 39.27,450.99 38.7,451.74 38.05,452.43 37.33,453.04 36.55,453.58"/><polyline points="27.8,440.0 28.45,439.59 29.14,439.24 29.87,438.98 30.62,438.79 31.38,438.68 32.15,438.65 32.93,438.7 33.69,438.83 34.44,439.04 35.16,439.33 35.84,439.7 36.49,440.13 37.08,440.63 37.62,441.19 38.1,441.81 38.51,442.47 38.85,443.17 39.11,443.91 39.3,444.66 39.41,445.44 39.43,446.22 39.37,447.0 39.23,447.77 39.01,448.52 38.71,449.25 38.33,449.94 37.89,450.58 37.38,451.18 36.81,451.72 36.18,452.2"/><polyline points="28.58,441.11 29.1,440.78 29.65,440.5 30.23,440.29 30.83,440.13 31.44,440.04 32.06,440.0 32.68,440.04 33.3,440.14 33.9,440.3 34.48,440.52 35.03,440.8 35.56,441.14 36.05,441.53 36.49,441.97 36.89,442.45 37.23,442.97 37.52,443.53 37.75,444.11 37.92,444.71 38.03,445.33 38.07,445.96 38.05,446.59 37.96,447.21 37.81,447.82 37.59,448.41 37.32,448.98 36.98,449.52 36.6,450.02 36.16,450.47 35.68,450.88"/><polyline points="29.36,442.23 29.75,441.97 30.17,441.76 30.61,441.59 31.06,441.47 31.53,441.39 32.0,441.37 32.47,441.38 32.94,441.45 33.4,441.57 33.84,441.73 34.27,441.93 34.68,442.18 35.05,442.47 35.4,442.79 35.71,443.15 35.99,443.54 36.22,443.96 36.41,444.39 36.56,444.85 36.65,445.32 36.7,445.79 36.7,446.27 36.66,446.75 36.56,447.22 36.42,447.68 36.23,448.12 36.0,448.55 35.72,448.94 35.4,449.31 35.05,449.64"/><polyline points="30.14,443.34 30.41,443.16 30.7,443.02 31.0,442.9 31.32,442.81 31.64,442.75 31.97,442.73 32.29,442.73 32.62,442.77 32.94,442.85 33.25,442.95 33.55,443.09 33.84,443.26 34.11,443.45 34.35,443.67 34.58,443.91 34.78,444.18 34.95,444.46 35.09,444.76 35.21,445.08 35.29,445.4 35.34,445.73 35.35,446.07 35.33,446.4 35.28,446.73 35.19,447.06 35.08,447.37 34.93,447.68 34.75,447.96 34.54,448.23 34.31,448.48"/><polyline points="30.92,444.46 31.07,444.35 31.24,444.27 31.41,444.19 31.59,444.14 31.77,444.1 31.96,444.09 32.15,444.09 32.34,444.11 32.52,444.14 32.7,444.2 32.88,444.27 33.05,444.36 33.2,444.47 33.35,444.59 33.49,444.73 33.61,444.88 33.72,445.04 33.81,445.21 33.88,445.39 33.93,445.58 33.97,445.77 33.99,445.96 33.99,446.16 33.97,446.35 33.93,446.55 33.87,446.73 33.79,446.92 33.7,447.09 33.59,447.26 33.46,447.41"/><ellipse cx="29.7" cy="446.1" rx="6.6" ry="9.5" fill="#fff" stroke="none"/><polyline points="22.92,445.25 22.9,445.91 22.95,446.57 23.06,447.22 23.24,447.85 23.49,448.46 23.8,449.04 24.17,449.59 24.59,450.1 25.07,450.55 25.59,450.96 26.15,451.31 26.74,451.6 27.36,451.82 28.0,451.98 28.65,452.08 29.31,452.1 29.97,452.05 30.62,451.94 31.25,451.76 31.86,451.51 32.44,451.2 32.99,450.83 33.5,450.41 33.95,449.93 34.36,449.41 34.71,448.85 35.0,448.26 35.22,447.64 35.38,447.0 35.48,446.35" stroke-width="1.5"/></g><text x="56.6" y="439.5" font-size="10" letter-spacing="0.18" fill="#3d50b6" stroke="#3d50b6" stroke-width="0.12">ORSZÁGOS</text><text x="56.6" y="450.55" font-size="10" letter-spacing="0.18" fill="#3d50b6" stroke="#3d50b6" stroke-width="0.12">METEOROLÓGIAI</text><text x="56.6" y="461.6" font-size="10" letter-spacing="0.18" fill="#3d50b6" stroke="#3d50b6" stroke-width="0.12">SZOLGÁLAT</text>
</svg>
</body></html>
